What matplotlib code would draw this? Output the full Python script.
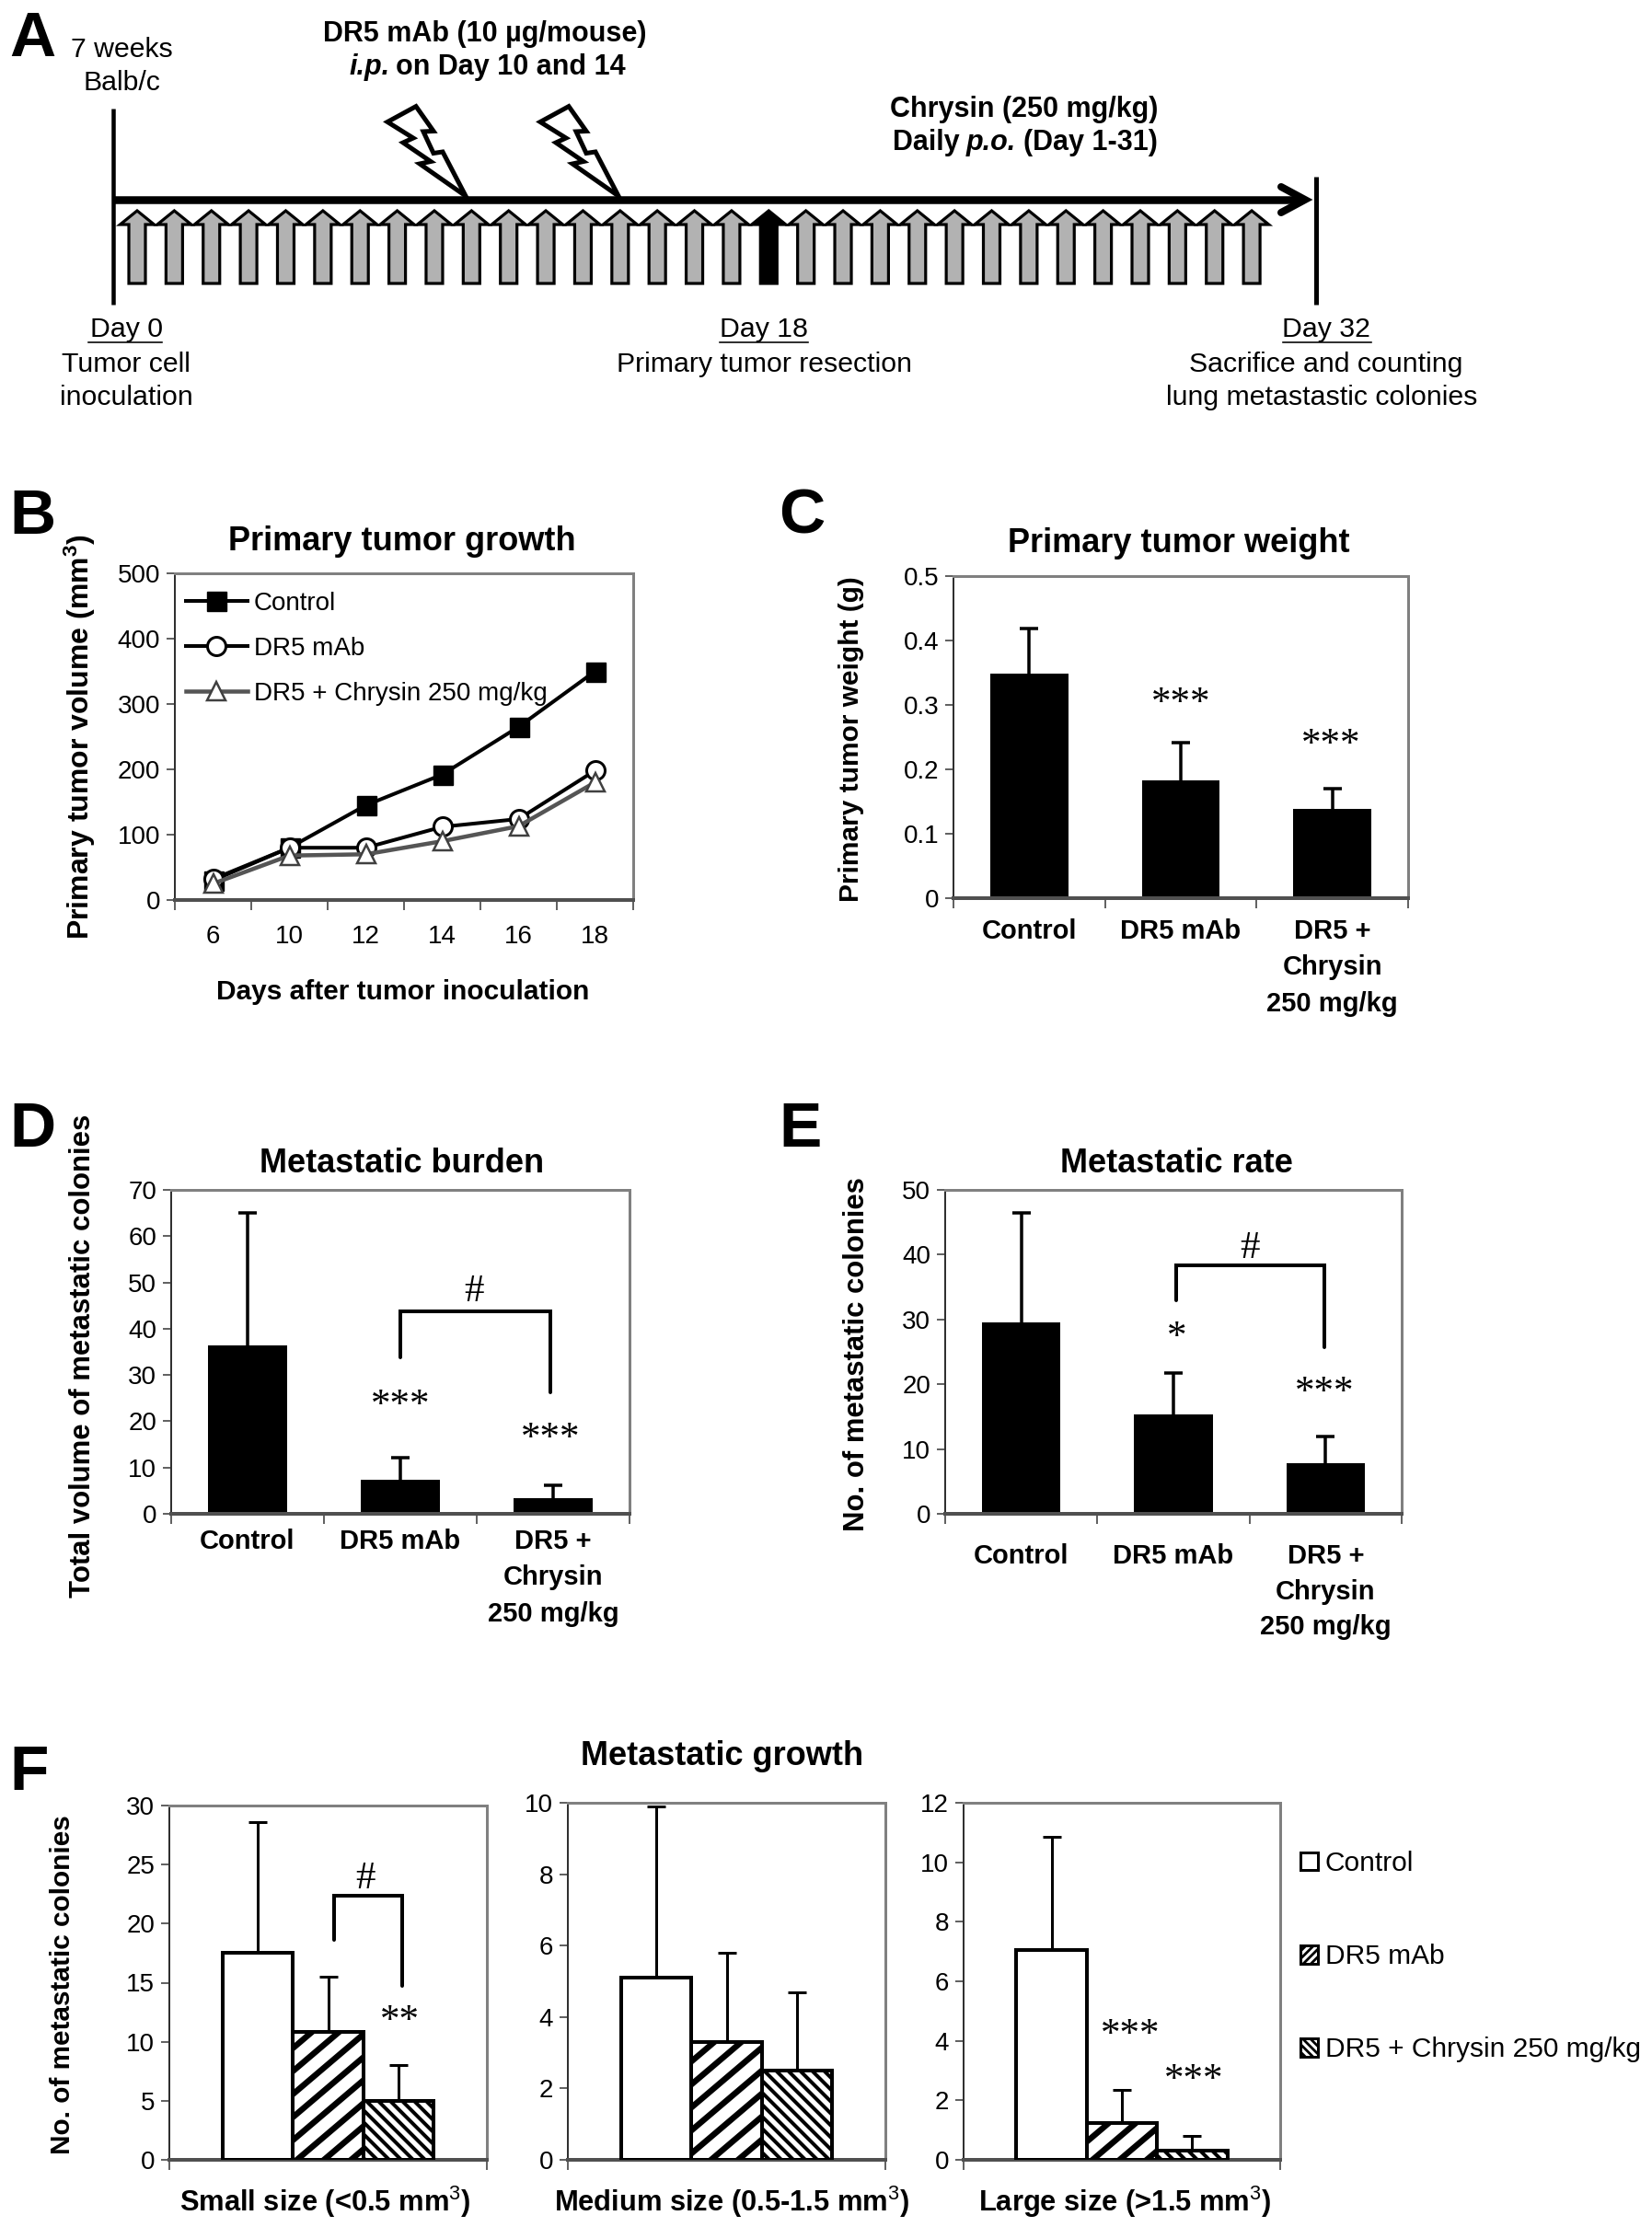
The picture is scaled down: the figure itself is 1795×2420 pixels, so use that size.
import numpy as np
import matplotlib
matplotlib.use("Agg")
import matplotlib.pyplot as plt
from matplotlib.patches import Polygon, Patch
from matplotlib.transforms import IdentityTransform

plt.rcParams.update({
    'font.family': ['Liberation Sans', 'DejaVu Sans'],
    'mathtext.fontset': 'custom',
    'mathtext.rm': 'Liberation Sans',
    'mathtext.it': 'Liberation Sans:italic',
    'mathtext.bf': 'Liberation Sans:bold',
    'mathtext.default': 'rm',
    'hatch.linewidth': 2.0,
})

W, H = 1795, 2420
DPI = 100
PX = 72 / DPI

# ---- data -----------------------------------------------------------------
days = ['6', '10', '12', '14', '16', '18']
tumor_control = [30, 80, 145, 192, 265, 350]
tumor_dr5 = [32, 80, 80, 112, 124, 198]
tumor_combo = [25, 68, 70, 90, 113, 180]

groups = ['Control', 'DR5 mAb', 'DR5 +\nChrysin\n250 mg/kg']
weight_mean = [0.348, 0.183, 0.139]
weight_err = [0.070, 0.059, 0.031]
burden_mean = [36.4, 7.4, 3.3]
burden_err = [28.6, 4.8, 2.9]
rate_mean = [29.5, 15.4, 7.8]
rate_err = [17.0, 6.3, 4.2]

small_mean = [17.5, 10.8, 5.0]
small_err = [11.1, 4.7, 3.0]
medium_mean = [5.1, 3.3, 2.5]
medium_err = [4.8, 2.5, 2.2]
large_mean = [7.05, 1.25, 0.3]
large_err = [3.8, 1.1, 0.5]

treatment_days = list(range(1, 32))
resection_day = 18
mab_days = [10, 14]

# ---- helpers --------------------------------------------------------------
fig = plt.figure(figsize=(W / DPI, H / DPI), dpi=DPI, facecolor='white')

def axes_px(l, t, r, b):
    ax = fig.add_axes([l / W, 1 - b / H, (r - l) / W, (b - t) / H])
    ax._box = (l, t, r, b)
    return ax

def style(ax, ylim, yticks, ylabels, xlim, xbounds, size=20):
    ax.set_xlim(*xlim)
    ax.set_ylim(*ylim)
    for s in ('top', 'right'):
        ax.spines[s].set_color('#808080')
        ax.spines[s].set_linewidth(3 * PX)
    ax.spines['left'].set_color('#303030')
    ax.spines['left'].set_linewidth(2 * PX)
    ax.spines['bottom'].set_color('#505050')
    ax.spines['bottom'].set_linewidth(4 * PX)
    ax.set_yticks(yticks, ylabels, fontsize=size)
    ax.tick_params(axis='y', length=9 * PX, width=1.5 * PX, pad=5, color='#303030')
    ax.set_xticks(xbounds, [''] * len(xbounds))
    ax.tick_params(axis='x', which='major', length=11 * PX, width=1.5 * PX, color='#303030')

def centre_labels(ax, centres, labels, pad_px, **kw):
    ax.set_xticks(centres, labels, minor=True, **kw)
    ax.tick_params(axis='x', which='minor', length=0, pad=pad_px * PX)

def ylab(ax, text, x, y, size):
    l, t, r, b = ax._box
    ax.set_ylabel(text, fontsize=size, fontweight='bold', va='center', ha='center')
    ax.yaxis.set_label_coords((x - l) / (r - l), (b - y) / (b - t))

def title(ax, text, x, y, size=26):
    l, t, r, b = ax._box
    ax.set_title(text, fontsize=size, fontweight='bold', x=(x - l) / (r - l),
                 y=(b - y - 3) / (b - t), va='center', ha='center', pad=0)

def stars(ax, x, y, s):
    # y is the visual centre of the asterisks, moved down to a baseline
    xd, yd = ax.transData.transform((x, y))
    ax.text(xd, yd - 17, s, transform=IdentityTransform(), fontsize=31,
            family='Liberation Serif', ha='center', va='baseline', zorder=6, clip_on=False)

def hash_mark(ax, x, y):
    ax.text(x, y, '#', fontsize=31, family='Liberation Serif', ha='center', va='center', zorder=6)

def bracket(ax, x0, x1, top, y0, y1):
    ax.plot([x0, x0, x1, x1], [y0, top, top, y1], color='black', lw=4 * PX,
            solid_joinstyle='miter', solid_capstyle='round', zorder=5)

def upper_caps_only(container):
    # the lower error of every bar is zero, so its cap would only sit on the bar top
    container.errorbar.lines[1][0].set_visible(False)

def black_bars(ax, means, errs):
    c = ax.bar(range(3), means, width=0.515, color='black', linewidth=0, zorder=2,
               yerr=[[0, 0, 0], errs], capsize=10 * PX,
               error_kw=dict(ecolor='black', elinewidth=3.5 * PX, capthick=3.5 * PX))
    upper_caps_only(c)

def stripe(ax, bar, spacing, lw, slope):
    (x0, y0), (x1, y1) = ax.transData.transform(
        [(bar.get_x(), bar.get_y()), (bar.get_x() + bar.get_width(), bar.get_y() + bar.get_height())])
    span = abs(slope) * (x1 - x0) + (y1 - y0)
    for k in np.arange(-span, span, spacing):
        yl = y0 + k
        ln, = ax.plot([x0 - 5, x1 + 5], [yl - slope * 5, yl + slope * (x1 - x0 + 5)],
                      transform=IdentityTransform(), color='black', lw=lw * PX, zorder=1.5,
                      scalex=False, scaley=False)
        ln.set_clip_path(bar)

def size_panel(ax, means, errs):
    centres = [0.278, 0.5, 0.722]
    bars = ax.bar(centres, means, width=0.2222, facecolor='none', edgecolor='black',
                  linewidth=4 * PX, zorder=3, yerr=[[0, 0, 0], errs], capsize=10 * PX,
                  error_kw=dict(ecolor='black', elinewidth=3 * PX, capthick=3 * PX))
    upper_caps_only(bars)
    stripe(ax, bars[1], 25, 6.5, 0.85)
    stripe(ax, bars[2], 13, 4.0, -1.0)

# ---- panel A ---------------------------------------------------------------
ov = fig.add_axes([0, 0, 1, 1], zorder=20)
ov.set_xlim(0, W)
ov.set_ylim(H, 0)
ov.axis('off')
ov.patch.set_alpha(0)

def px_text(x, y, s, size=21.8, **kw):
    ov.text(x, y + 2, s, fontsize=size, ha=kw.pop('ha', 'center'), va=kw.pop('va', 'center'), **kw)

def day_x(d):
    return 149 + (d - 1) * 40.37

for d in treatment_days:
    c = day_x(d)
    pts = [(c, 229), (c + 18.5, 244), (c + 9, 244), (c + 9, 308), (c - 9, 308),
           (c - 9, 244), (c - 18.5, 244)]
    ov.add_patch(Polygon(pts, closed=True, facecolor='black' if d == resection_day else '#b2b2b2',
                         edgecolor='black', linewidth=3.2 * PX, joinstyle='miter'))

ov.plot([123, 123], [118, 331], color='black', lw=4.5 * PX, solid_capstyle='butt')
ov.plot([1430, 1430], [192, 331], color='black', lw=5 * PX, solid_capstyle='butt')
ov.plot([123, 1415], [217, 217], color='black', lw=8.5 * PX, solid_capstyle='butt')
ov.plot([1392, 1418, 1392], [203, 217, 231], color='black', lw=8 * PX,
        solid_joinstyle='miter', solid_capstyle='round')

bolt = np.array([(-54, -97.4), (-85, -80.5), (-57, -63), (-68, -58), (-38, -37.5), (-50, -35),
                 (0, 0), (-25, -48), (-35, -46.5), (-46, -70), (-35, -70.5)])
for tip_x in (506, 672):
    ov.add_patch(Polygon(bolt + (tip_x, 213), closed=True, facecolor='white', edgecolor='black',
                         linewidth=5 * PX, joinstyle='miter'))

px_text(132, 52, '7 weeks')
px_text(132, 88, 'Balb/c')
px_text(527, 35, 'DR5 mAb (10 µg/mouse)', 22, fontweight='bold')
px_text(379, 71, 'i.p.', 22, fontweight='bold', fontstyle='italic', ha='left')
px_text(430, 71, 'on Day 10 and 14', 22, fontweight='bold', ha='left')
px_text(1113, 117, 'Chrysin (250 mg/kg)', 22, fontweight='bold')
px_text(970, 153, 'Daily', 22, fontweight='bold', ha='left')
px_text(1050, 153, 'p.o.', 22, fontweight='bold', fontstyle='italic', ha='left')
px_text(1112, 153, '(Day 1-31)', 22, fontweight='bold', ha='left')

for x, s, x0, x1 in ((137, 'Day 0', 96, 176), (830, 'Day 18', 782, 878), (1441, 'Day 32', 1394, 1490)):
    px_text(x, 356, s)
    ov.plot([x0, x1], [372, 372], color='black', lw=1.6 * PX)
px_text(137, 394, 'Tumor cell')
px_text(137, 430, 'inoculation')
px_text(830, 394, 'Primary tumor resection')
px_text(1441, 394, 'Sacrifice and counting')
px_text(1436, 430, 'lung metastastic colonies')

for s, x, y in (('A', 10, 41), ('B', 10, 560), ('C', 846, 560), ('D', 10, 1226), ('E', 846, 1226), ('F', 10, 1925)):
    px_text(x, y, s, 50, ha='left', fontweight='bold')

# ---- panel B ---------------------------------------------------------------
axB = axes_px(190, 623, 688, 978)
style(axB, (0, 500), [0, 100, 200, 300, 400, 500], ['0', '100', '200', '300', '400', '500'],
      (-0.5, 5.5), np.arange(-0.5, 6))
centre_labels(axB, range(6), days, 27, fontsize=20)
x = np.arange(6)
axB.plot(x, tumor_control, '-s', color='black', lw=4 * PX, ms=21 * PX, mfc='black', mec='black',
         label='Control', zorder=3, clip_on=False)
axB.plot(x, tumor_dr5, '-o', color='black', lw=4 * PX, ms=20 * PX, mfc='white', mec='black',
         mew=3 * PX, label='DR5 mAb', zorder=4, clip_on=False)
axB.plot(x, tumor_combo, '-^', color='#555555', lw=4.5 * PX, ms=20 * PX, mfc='white', mec='#404040',
         mew=2.5 * PX, label='DR5 + Chrysin 250 mg/kg', zorder=5, clip_on=False)
axB.legend(loc='upper left', bbox_to_anchor=(0.024, 0.945), frameon=False, fontsize=20,
           handlelength=2.4, handletextpad=0.25, labelspacing=0.84, borderpad=0, borderaxespad=0,
           numpoints=1)
ylab(axB, r'Primary tumor volume (mm$^{\mathbf{3}}$)', 87, 801, 23)
title(axB, 'Primary tumor growth', 437, 586)
axB.set_xlabel('Days after tumor inoculation', fontsize=21.5, fontweight='bold', va='center')
axB.xaxis.set_label_coords(0.497, (978 - 1078) / 355)

# ---- panel C ---------------------------------------------------------------
axC = axes_px(1036, 626, 1530, 976)
style(axC, (0, 0.5), [0, 0.1, 0.2, 0.3, 0.4, 0.5], ['0', '0.1', '0.2', '0.3', '0.4', '0.5'],
      (-0.5, 2.5), [-0.5, 0.5, 1.5, 2.5])
black_bars(axC, weight_mean, weight_err)
centre_labels(axC, range(3), groups, 22, fontsize=21, fontweight='bold', linespacing=1.52)
stars(axC, 1.0, 0.311, '***')
stars(axC, 1.99, 0.247, '***')
ylab(axC, 'Primary tumor weight (g)', 925, 803, 21.5)
title(axC, 'Primary tumor weight', 1281, 587)

# ---- panel D ---------------------------------------------------------------
axD = axes_px(186, 1293, 684, 1645)
style(axD, (0, 70), range(0, 71, 10), [str(v) for v in range(0, 71, 10)],
      (-0.5, 2.5), [-0.5, 0.5, 1.5, 2.5])
black_bars(axD, burden_mean, burden_err)
centre_labels(axD, range(3), groups, 16, fontsize=21, fontweight='bold', linespacing=1.52)
bracket(axD, 1.0, 1.98, 43.8, 33.8, 26.2)
hash_mark(axD, 1.48, 47.9)
stars(axD, 1.0, 24.7, '***')
stars(axD, 1.98, 17.5, '***')
ylab(axD, 'Total volume of metastatic colonies', 90, 1473, 22.4)
title(axD, 'Metastatic burden', 437, 1261)

# ---- panel E ---------------------------------------------------------------
axE = axes_px(1027, 1293, 1523, 1645)
style(axE, (0, 50), range(0, 51, 10), [str(v) for v in range(0, 51, 10)],
      (-0.5, 2.5), [-0.5, 0.5, 1.5, 2.5])
black_bars(axE, rate_mean, rate_err)
centre_labels(axE, range(3), groups, 32, fontsize=21, fontweight='bold', linespacing=1.48)
bracket(axE, 1.02, 1.99, 38.4, 33.0, 25.7)
hash_mark(axE, 1.5, 41.0)
stars(axE, 1.02, 28.1, '*')
stars(axE, 1.99, 19.6, '***')
ylab(axE, 'No. of metastatic colonies', 931, 1472, 22.3)
title(axE, 'Metastatic rate', 1278, 1261)

# ---- panel F ---------------------------------------------------------------
axF1 = axes_px(184, 1962, 529, 2347)
style(axF1, (0, 30), range(0, 31, 5), [str(v) for v in range(0, 31, 5)], (0, 1), [0, 1])
axF2 = axes_px(617, 1959, 962, 2347)
style(axF2, (0, 10), range(0, 11, 2), [str(v) for v in range(0, 11, 2)], (0, 1), [0, 1])
axF3 = axes_px(1047, 1959, 1391, 2347)
style(axF3, (0, 12), range(0, 13, 2), [str(v) for v in range(0, 13, 2)], (0, 1), [0, 1])

size_panel(axF1, small_mean, small_err)
size_panel(axF2, medium_mean, medium_err)
size_panel(axF3, large_mean, large_err)

bracket(axF1, 0.518, 0.732, 22.4, 18.6, 14.7)
hash_mark(axF1, 0.617, 23.8)
stars(axF1, 0.725, 12.2, '**')
stars(axF3, 0.526, 4.39, '***')
stars(axF3, 0.727, 2.88, '***')

for ax, label, cx in ((axF1, r'Small size (<0.5 mm$^{3}$)', 0.49),
                      (axF2, r'Medium size (0.5-1.5 mm$^{3}$)', 0.515),
                      (axF3, r'Large size (>1.5 mm$^{3}$)', 0.51)):
    ax.set_xlabel(label, fontsize=22.2, fontweight='bold', va='center')
    ax.xaxis.set_label_coords(cx, (ax._box[3] - 2393) / (ax._box[3] - ax._box[1]))
ylab(axF1, 'No. of metastatic colonies', 68, 2157, 21.4)
px_text(785, 1906, 'Metastatic growth', 26, fontweight='bold')

handles = [Patch(facecolor='white', edgecolor='black', linewidth=3 * PX, label='Control'),
           Patch(facecolor='white', edgecolor='black', linewidth=3 * PX, hatch='////', label='DR5 mAb'),
           Patch(facecolor='white', edgecolor='black', linewidth=3 * PX, hatch='\\\\\\\\',
                 label='DR5 + Chrysin 250 mg/kg')]
fig.legend(handles=handles, loc='upper left', bbox_to_anchor=(1413 / W, 1 - 2011 / H), frameon=False,
           fontsize=21.5, handlelength=0.62, handleheight=0.65, handletextpad=0.28, labelspacing=2.45,
           borderpad=0, borderaxespad=0)

fig.savefig('out.png', dpi=DPI, facecolor='white')
